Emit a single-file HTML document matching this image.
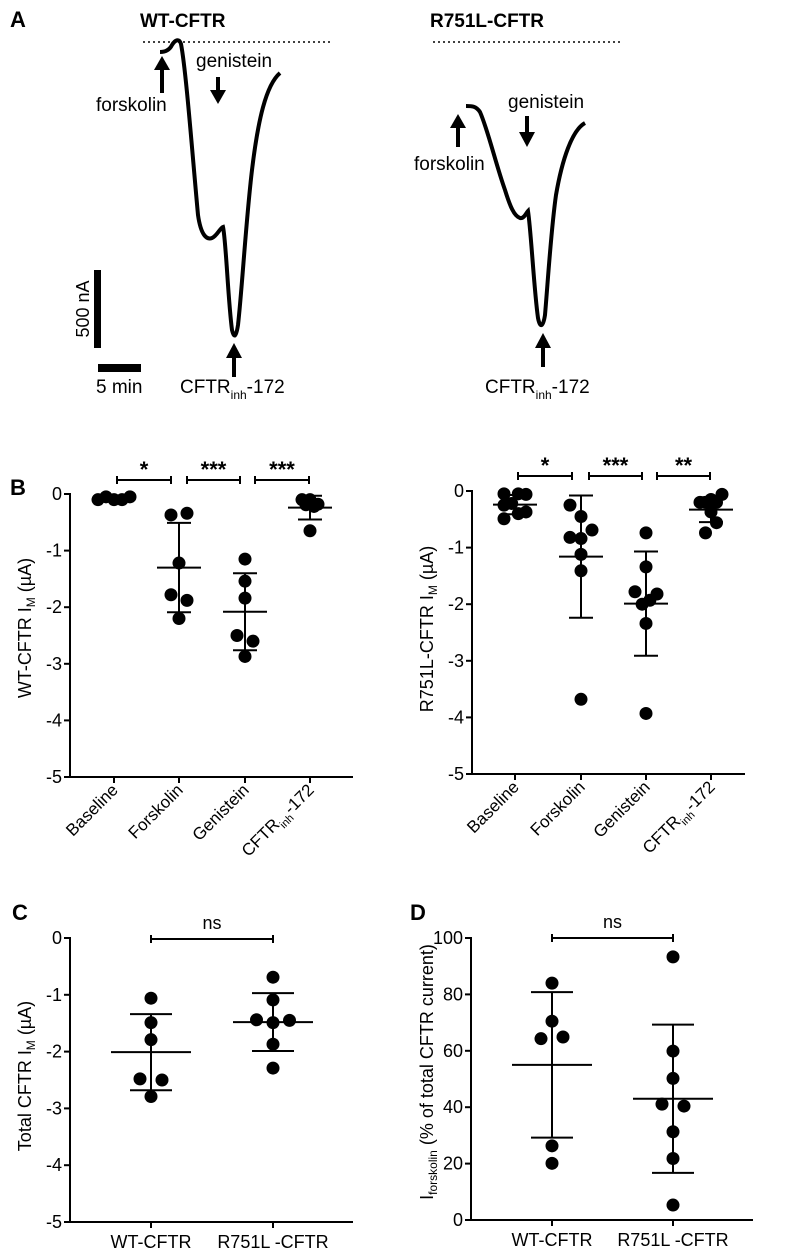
<!DOCTYPE html>
<html><head><meta charset="utf-8"><style>
body{margin:0;background:#fff}
svg{display:block;font-family:"Liberation Sans",Arial,sans-serif}
</style></head><body>
<svg id="fig" width="807" height="1259" viewBox="0 0 807 1259" xmlns="http://www.w3.org/2000/svg">
<g>
<text x="10" y="27" font-size="22" font-weight="bold">A</text>
<text x="140" y="27" font-size="19" font-weight="bold">WT-CFTR</text>
<text x="430" y="27" font-size="19" font-weight="bold">R751L-CFTR</text>
<line x1="143" y1="42" x2="333" y2="42" stroke="#000" stroke-width="1.5" stroke-dasharray="2,3"/>
<line x1="433" y1="42" x2="623" y2="42" stroke="#000" stroke-width="1.5" stroke-dasharray="2,3"/>
<path d="M160,52 C166,52 170,49 172,45 C175,40 179,38 181,44 C186,70 192,150 198,215 C201,236 207,240 212,238 C217,236 220,228 223,227 C226,240 228,300 232,330 C234,338 236,338 238,325 C242,290 246,220 252,170 C258,120 266,85 280,73" fill="none" stroke="#000" stroke-width="4"/>
<path d="M466,106 C472,106 476,106 480,112 C488,130 496,165 505,190 C510,206 514,216 520,218 C524,219 526,213 528,211 C531,230 534,290 538,318 C540,328 543,328 545,315 C548,280 551,230 556,195 C562,160 572,130 585,123" fill="none" stroke="#000" stroke-width="4"/>
<g><line x1="162" y1="93" x2="162" y2="68" stroke="#000" stroke-width="4"/><polygon points="154,70 170,70 162,56" fill="#000"/></g>
<text x="96" y="111" font-size="19">forskolin</text>
<text x="196" y="67" font-size="19">genistein</text>
<g><line x1="218" y1="77" x2="218" y2="92" stroke="#000" stroke-width="4"/><polygon points="210,90 226,90 218,104" fill="#000"/></g>
<g><line x1="234" y1="377" x2="234" y2="355" stroke="#000" stroke-width="4"/><polygon points="226,358 242,358 234,343" fill="#000"/></g>
<text x="180" y="393" font-size="19">CFTR<tspan font-size="12" dy="6">inh</tspan><tspan dy="-6">-172</tspan></text>
<rect x="94" y="270" width="7" height="78" fill="#000"/>
<rect x="98" y="364" width="43" height="8" fill="#000"/>
<text x="96" y="393" font-size="19">5 min</text>
<text transform="translate(89,309) rotate(-90)" text-anchor="middle" font-size="18">500 nA</text>
<g><line x1="458" y1="147" x2="458" y2="126" stroke="#000" stroke-width="4"/><polygon points="450,128 466,128 458,114" fill="#000"/></g>
<text x="414" y="170" font-size="19">forskolin</text>
<text x="508" y="108" font-size="19">genistein</text>
<g><line x1="527" y1="116" x2="527" y2="134" stroke="#000" stroke-width="4"/><polygon points="519,132 535,132 527,147" fill="#000"/></g>
<g><line x1="543" y1="367" x2="543" y2="345" stroke="#000" stroke-width="4"/><polygon points="535,348 551,348 543,333" fill="#000"/></g>
<text x="485" y="393" font-size="19">CFTR<tspan font-size="12" dy="6">inh</tspan><tspan dy="-6">-172</tspan></text>
</g>
<text x="10" y="495" font-size="22" font-weight="bold">B</text>
<text x="12" y="920" font-size="22" font-weight="bold">C</text>
<text x="410" y="920" font-size="22" font-weight="bold">D</text>
</svg>
<script>
// Panel B left (WT) data
const bCats = ["Baseline","Forskolin","Genistein","CFTRinh-172"];
const bTicks = [0,-1,-2,-3,-4,-5];
const wtBase = [-0.1,-0.05,-0.1,-0.1,-0.05];
const wtFsk = [-0.37,-0.34,-1.22,-1.78,-1.88,-2.2];
const wtGen = [-1.15,-1.54,-1.84,-2.5,-2.6,-2.87];
const wtInh = [-0.1,-0.1,-0.19,-0.22,-0.18,-0.65];
const wtMean = [-0.08,-1.3,-2.08,-0.24];
const wtSD = [0.03,0.79,0.68,0.21];
const wtSig = ["*","***","***"];
// jitter (in dot-widths) for point placement
const wtJit = [[-2,-1,0,1,2],[-1,1,0,-1,1,0],[0,0,0,-1,1,0],[-1,0,-0.5,0.5,1,0]];
// Panel B right (R751L)
const rBase = [-0.05,-0.05,-0.06,-0.25,-0.22,-0.4,-0.37,-0.49];
const rFsk = [-0.25,-0.45,-0.69,-0.82,-0.84,-1.12,-1.41,-3.68];
const rGen = [-0.74,-1.34,-1.78,-1.82,-2.0,-1.93,-2.34,-3.93];
const rInh = [-0.2,-0.2,-0.2,-0.06,-0.15,-0.37,-0.56,-0.74];
const rMean = [-0.24,-1.16,-1.99,-0.33];
const rSD = [0.17,1.08,0.92,0.22];
const rSig = ["*","***","**"];
const rJit = [[-1,0.3,1,-1,-0.3,0.3,1,-1],[-1,0,1,-1,0,0,0,0],[0,0,-1,1,-0.35,0.35,0,0],[-1,-0.5,0.5,1,0,0,0.5,-0.5]];
// Panel C
const cCats = ["WT-CFTR","R751L -CFTR"];
const cTicks = [0,-1,-2,-3,-4,-5];
const cWT = [-1.06,-1.49,-1.79,-2.48,-2.5,-2.79];
const cR = [-0.69,-1.09,-1.44,-1.49,-1.45,-1.87,-2.29];
const cMean = [-2.01,-1.48];
const cSD = [0.67,0.51];
const cJit = [[0,0,0,-1,1,0],[0,0,-1.5,0,1.5,0,0]];
// Panel D
const dTicks = [0,20,40,60,80,100];
const dWT = [84,70.5,64.3,64.9,26.3,20.1];
const dR = [93.3,59.9,50.2,41.1,40.4,31.3,21.8,5.3];
const dMean = [55,43];
const dSD = [25.8,26.3];
const dJit = [[0,0,-1,1,0,0],[0,0,0,-1,1,0,0,0]];

const svg = document.getElementById('fig');
const NS = "http://www.w3.org/2000/svg";
function mk(tag, attrs, parent){const e=document.createElementNS(NS,tag);for(const k in attrs)e.setAttribute(k,attrs[k]);(parent||svg).appendChild(e);return e;}

function panel(o){
  const g = mk('g',{});
  
  
  const y = v => o.y0 + (v - o.vTop) / (o.vBot - o.vTop) * (o.y1 - o.y0);
  const x = i => o.cx[i];
  const ax = mk('path',{d:`M${o.ax},${o.y0-1} V${o.y1} H${o.axEnd}`,fill:'none',stroke:'#000','stroke-width':2},g);
  
  
  o.ticks.forEach(t=>{
    mk('line',{x1:o.ax-6,x2:o.ax,y1:y(t),y2:y(t),stroke:'#000','stroke-width':2},g);
    const tl = mk('text',{x:o.ax-8,y:y(t)+6,'text-anchor':'end','font-size':18},g);
    tl.textContent = t;
    
    
  });
  o.cats.forEach((c,i)=>{
    mk('line',{x1:x(i),x2:x(i),y1:o.y1,y2:o.y1+6,stroke:'#000','stroke-width':2},g);
    let t;
    if(o.rot){
      t = mk('text',{transform:`translate(${x(i)+5},${o.y1+14}) rotate(-45)`,'text-anchor':'end','font-size':17},g);
    } else {
      t = mk('text',{x:x(i),y:o.y1+26,'text-anchor':'middle','font-size':18},g);
    }
    if(c==="CFTRinh-172"){t.innerHTML='CFTR<tspan font-size="11" dy="5">inh</tspan><tspan dy="-5">-172</tspan>';}
    else t.textContent=c;
    
    
  });
  const yt = mk('text',{transform:`translate(${o.tx},${o.ty}) rotate(-90)`,'text-anchor':'middle','font-size':18},g);
  yt.innerHTML = o.title;
  
  
  o.series.forEach((s,i)=>{
    const m=o.mean[i], sd=o.sd[i];
    const eb = mk('g',{},g);
    
    
    mk('line',{x1:x(i),x2:x(i),y1:y(m+sd),y2:y(m-sd),stroke:'#000','stroke-width':2},eb);
    mk('line',{x1:x(i)-o.cap,x2:x(i)+o.cap,y1:y(m+sd),y2:y(m+sd),stroke:'#000','stroke-width':2},eb);
    mk('line',{x1:x(i)-o.cap,x2:x(i)+o.cap,y1:y(m-sd),y2:y(m-sd),stroke:'#000','stroke-width':2},eb);
    mk('line',{x1:x(i)-o.mw,x2:x(i)+o.mw,y1:y(m),y2:y(m),stroke:'#000','stroke-width':2},eb);
    s.forEach((v,j)=>{
      const c = mk('circle',{cx:x(i)+o.jit[i][j]*o.jw,cy:y(v),r:6.5,fill:'#000'},g);
      
      
    });
  });
  o.sig.forEach((s,i)=>{
    const [a,b]=o.pairs[i];
    const bg = mk('g',{},g);
    
    
    mk('path',{d:`M${a},${o.by-4}V${o.by+4}M${a},${o.by}H${b}M${b},${o.by-4}V${o.by+4}`,stroke:'#000','stroke-width':2,fill:'none'},bg);
    const t = mk('text',{x:(a+b)/2,y:o.by+o.sy,'text-anchor':'middle','font-size':s==='ns'?18:22,'font-weight':s==='ns'?'normal':'bold'},bg);
    t.textContent = s;
  });
}
const im = 'I<tspan font-size="12" dy="4">M</tspan><tspan dy="-4"> (µA)</tspan>';
panel({name:'wt-stage-chart',ax:70,axEnd:353,y0:494,y1:777,vTop:0,vBot:-5,cx:[114,179,245,310],ticks:bTicks,cats:bCats,rot:true,
  title:'WT-CFTR '+im,tx:31,ty:628,series:[wtBase,wtFsk,wtGen,wtInh],mean:wtMean,sd:wtSD,jit:wtJit,jw:8,cap:12,mw:22,
  sig:wtSig,pairs:[[117,171],[187,240],[255,309]],by:480,sy:-3});
panel({name:'r751l-stage-chart',ax:472,axEnd:745,y0:491,y1:774,vTop:0,vBot:-5,cx:[515,581,646,711],ticks:bTicks,cats:bCats,rot:true,
  title:'R751L-CFTR '+im,tx:433,ty:629,series:[rBase,rFsk,rGen,rInh],mean:rMean,sd:rSD,jit:rJit,jw:11,cap:12,mw:22,
  sig:rSig,pairs:[[518,572],[589,642],[657,710]],by:476,sy:-3});
panel({name:'total-current-chart',ax:70,axEnd:353,y0:938,y1:1222,vTop:0,vBot:-5,cx:[151,273],ticks:cTicks,cats:cCats,rot:false,
  title:'Total CFTR '+im,tx:31,ty:1076,series:[cWT,cR],mean:cMean,sd:cSD,jit:cJit,jw:11,cap:21,mw:40,
  sig:['ns'],pairs:[[151,273]],by:939,sy:-10});
panel({name:'forskolin-fraction-chart',ax:471,axEnd:753,y0:938,y1:1220,vTop:100,vBot:0,cx:[552,673],ticks:dTicks,cats:cCats,rot:false,
  title:'I<tspan font-size="12" dy="4">forskolin</tspan><tspan dy="-4"> (% of total CFTR current)</tspan>',tx:433,ty:1072,series:[dWT,dR],mean:dMean,sd:dSD,jit:dJit,jw:11,cap:21,mw:40,
  sig:['ns'],pairs:[[552,673]],by:938,sy:-10});
</script>
</body></html>
